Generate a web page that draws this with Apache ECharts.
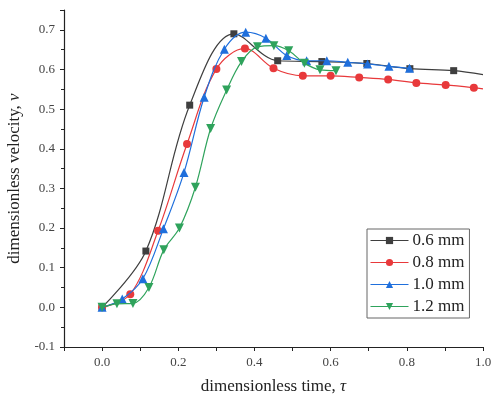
<!DOCTYPE html>
<html>
<head>
<meta charset="utf-8">
<script src="https://cdn.jsdelivr.net/npm/echarts@6/dist/echarts.min.js"></script>
<style>html,body{margin:0;padding:0;background:#fff}#c{width:495px;height:397px}</style>
</head>
<body>
<div id="c"></div>
<script>
// Series data: [tau, v]
const names = ['0.6 mm', '0.8 mm', '1.0 mm', '1.2 mm'];
const s06 = [[0,0],[0.115,0.142],[0.23,0.51],[0.346,0.69],[0.461,0.622],[0.577,0.62],[0.695,0.615],[0.808,0.602],[0.923,0.597]];
const s06End = [1.0,0.587];
const s08 = [[0,0],[0.074,0.033],[0.147,0.193],[0.223,0.412],[0.30,0.601],[0.375,0.653],[0.45,0.603],[0.527,0.584],[0.60,0.584],[0.675,0.58],[0.751,0.575],[0.825,0.566],[0.902,0.561],[0.976,0.554]];
const s08End = [1.0,0.551];
const s10 = [[0,0],[0.053,0.021],[0.107,0.072],[0.161,0.198],[0.215,0.34],[0.268,0.53],[0.321,0.651],[0.377,0.694],[0.43,0.679],[0.485,0.635],[0.537,0.622],[0.59,0.622],[0.645,0.618],[0.697,0.614],[0.753,0.608],[0.807,0.603]];
const s12 = [[0,0],[0.039,0.009],[0.081,0.010],[0.123,0.05],[0.162,0.145],[0.203,0.2],[0.245,0.303],[0.285,0.451],[0.327,0.548],[0.366,0.62],[0.408,0.657],[0.451,0.66],[0.49,0.647],[0.531,0.616],[0.572,0.599],[0.614,0.597]];

const colors = ['#3f3f3f', '#e8393b', '#1f6fdc', '#2fa35c'];
const font = '"Liberation Serif", "Times New Roman", serif';

function withEnd(arr, end) {
  const d = arr.map(p => p.slice());
  if (end) d.push({value: end, symbol: 'none'});
  return d;
}

const chart = echarts.init(document.getElementById('c'));
const mk = (i, data, symbol, size, rot) => ({
  name: names[i], type: 'line', data: data, smooth: 0.35,
  symbol: symbol, symbolSize: size, symbolRotate: rot || 0,
  color: colors[i],
  lineStyle: {width: 1.2, color: colors[i]},
  itemStyle: {color: colors[i]},
  z: 2 + i
});
const titleRich = {
  n: {fontFamily: font, fontSize: 17, color: '#222'},
  i: {fontFamily: font, fontSize: 17, fontStyle: 'italic', color: '#222'}
};
chart.setOption({
  animation: false,
  textStyle: {fontFamily: font},
  grid: {left: 64, right: 12, top: 10, bottom: 50, containLabel: false, outerBoundsMode: 'none'},
  legend: {
    orient: 'vertical', left: 367, top: 229,
    borderColor: '#666', borderWidth: 1, padding: [3, 5, 3, 3], itemGap: 5,
    itemWidth: 38, itemHeight: 9,
    lineStyle: {width: 1},
    textStyle: {fontFamily: font, fontSize: 17, color: '#222', padding: [0,0,0,-1]},
    data: names
  },
  xAxis: {
    type: 'value', min: -0.1, max: 1.0, interval: 0.1,
    axisLine: {show: true, onZero: false, lineStyle: {color: '#222', width: 1.2}},
    axisTick: {show: true, inside: false, length: 4, lineStyle: {color: '#222'}},
    splitLine: {show: false},
    axisLabel: {fontFamily: font, fontSize: 13, color: '#444', margin: 9,
      formatter: v => (Math.round(v * 10) % 2 === 0) ? v.toFixed(1) : ''},
    name: '{n|dimensionless time, }{i|τ}', nameLocation: 'middle', nameGap: 31,
    nameTextStyle: {rich: titleRich}
  },
  yAxis: {
    type: 'value', min: -0.1, max: 0.75, interval: 0.1,
    axisLine: {show: true, onZero: false, lineStyle: {color: '#222', width: 1.2}},
    axisTick: {show: true, inside: false, length: 4, lineStyle: {color: '#222'}},
    minorTick: {show: true, splitNumber: 2, length: 3, lineStyle: {color: '#222'}},
    splitLine: {show: false},
    axisLabel: {fontFamily: font, fontSize: 13, color: '#444', margin: 9, showMaxLabel: false,
      formatter: v => v.toFixed(1)},
    name: '{n|dimensionless velocity, }{i|v}', nameLocation: 'middle', nameGap: 36,
    nameTextStyle: {rich: titleRich}
  },
  series: [
    mk(0, withEnd(s06, s06End), 'rect', 7),
    mk(1, withEnd(s08, s08End), 'circle', 8),
    mk(2, withEnd(s10, null), 'triangle', 9),
    mk(3, withEnd(s12, null), 'triangle', 9, 180)
  ]
});
</script>
</body>
</html>
